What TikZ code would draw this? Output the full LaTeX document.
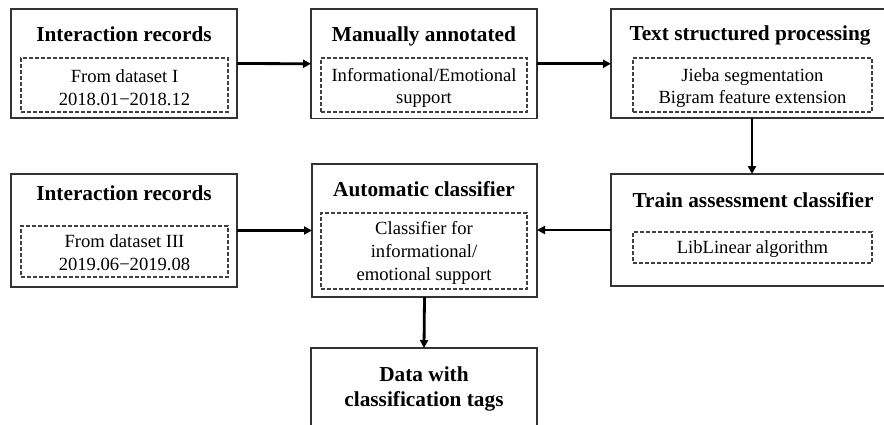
\documentclass[tikz,border=0pt]{standalone}
\usepackage{fontspec}
\setmainfont{Liberation Serif}
\usetikzlibrary{arrows.meta}

\tikzset{
  outerbox/.style={draw=black!80, line width=1.2pt, inner sep=0pt, outer sep=0pt},
  dashbox/.style={draw=black!75, dash pattern=on 3.6pt off 2.4pt, line width=1.1pt,
                  inner sep=0pt, outer sep=0pt},
  detail/.style={inner sep=0pt, align=center, font=\fontsize{18.6}{22.8}\selectfont},
  heading/.style={anchor=base, inner sep=0pt, font=\fontsize{21.3}{24.5}\selectfont\bfseries},
  flow/.style={line width=2.8pt, draw=black, -{Triangle[length=8pt,width=8pt]}}
}

\begin{document}
\begin{tikzpicture}[x=1pt,y=-1pt]
  \useasboundingbox (0,0) rectangle (884,424);
  \clip (0,0) rectangle (884,424);

  % outer boxes
  \node[outerbox, minimum width=226pt, minimum height=109pt] (rec1) at (124,63.5) {};
  \node[outerbox, minimum width=226pt, minimum height=109.5pt] (annot) at (424,63.75) {};
  \node[outerbox, minimum width=282pt, minimum height=109pt] (textproc) at (752,63.5) {};
  \node[outerbox, minimum width=282pt, minimum height=112pt] (train) at (752,230) {};
  \node[outerbox, minimum width=226pt, minimum height=113pt] (rec2) at (124,230.5) {};
  \node[outerbox, minimum width=225pt, minimum height=133pt] (auto) at (424.5,230.5) {};
  \node[outerbox, minimum width=226pt, minimum height=90pt] (tagged) at (424,393) {};

  % headings
  \node[heading] (h1) at (124,41) {Interaction records};
  \node[heading] (h2) at (424,41) {Manually annotated};
  \node[heading] (h3) at (750,40) {Text structured processing};
  \node[heading] (h4) at (753,207) {Train assessment classifier};
  \node[heading] (h5) at (124,200) {Interaction records};
  \node[heading] (h6) at (424,196) {Automatic classifier};
  \node[inner sep=0pt, align=center, font=\fontsize{21.3}{24.5}\selectfont\bfseries]
    (h7) at (424,389) {Data with\\classification tags};

  % dashed detail boxes
  \node[dashbox, minimum width=207pt, minimum height=54pt] (d1) at (124.5,85) {};
  \node[dashbox, minimum width=206pt, minimum height=54pt] (d2) at (424,85) {};
  \node[dashbox, minimum width=239pt, minimum height=54pt] (d3) at (752.5,85) {};
  \node[dashbox, minimum width=239pt, minimum height=31pt] (d4) at (752.5,247.5) {};
  \node[dashbox, minimum width=207pt, minimum height=51pt] (d5) at (124.5,251.5) {};
  \node[dashbox, minimum width=206pt, minimum height=76pt] (d6) at (424,251) {};

  % detail texts
  \node[detail] (x1) at (124.5,88) {From dataset I\\2018.01−2018.12};
  \node[detail] (x2) at (424,88) {Informational/Emotional\\support};
  \node[detail] (x3) at (752.5,88) {Jieba segmentation\\Bigram feature extension};
  \node[detail] (x4) at (752.5,249) {LibLinear algorithm};
  \node[detail] (x5) at (124.5,253) {From dataset III\\2019.06−2019.08};
  \node[detail] (x6) at (424,253) {Classifier for\\informational/\\emotional support};

  % connectors
  \draw[flow] (rec1.east) -- (annot.west);
  \draw[flow] (annot.east) -- (annot.east -| textproc.west);
  \draw[flow] (textproc.south) -- (train.north);
  \draw[flow] (rec2.east) -- (rec2.east -| auto.west);
  \draw[flow] (train.west) -- (train.west -| auto.east);
  \draw[flow] (auto.south) -- (tagged.north);
\end{tikzpicture}
\end{document}
